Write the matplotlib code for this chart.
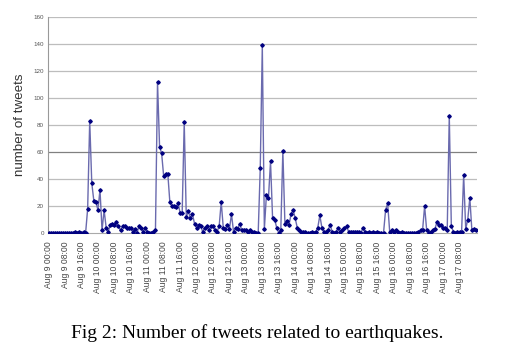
import matplotlib
matplotlib.use("Agg")
import matplotlib.pyplot as plt

# Hourly tweet counts, starting Aug 9 00:00
day_09 = [0, 0, 0, 0, 0, 0, 0, 0, 0, 0, 0, 0, 0, 1, 0, 1, 0, 1, 0, 18, 83, 37, 24, 23]
day_10 = [17, 32, 2, 17, 4, 1, 6, 7, 6, 8, 5, 2, 5, 5, 4, 4, 4, 1, 3, 0, 5, 4, 1, 4]
day_11 = [1, 0, 0, 1, 2, 112, 64, 59, 42, 44, 44, 23, 20, 20, 19, 22, 15, 15, 82, 12, 16, 11, 14, 7]
day_12 = [4, 6, 5, 1, 4, 5, 2, 5, 5, 2, 1, 5, 23, 4, 3, 6, 3, 14, 1, 4, 3, 7, 2, 2]
day_13 = [2, 1, 2, 1, 1, 0, 0, 48, 139, 3, 28, 26, 53, 11, 10, 4, 0, 2, 61, 7, 9, 6, 14, 17]
day_14 = [11, 4, 2, 1, 1, 1, 0, 0, 1, 0, 1, 4, 13, 4, 1, 1, 2, 6, 1, 0, 1, 4, 1, 2]
day_15 = [4, 5, 1, 1, 1, 1, 1, 1, 0, 4, 1, 0, 1, 0, 1, 0, 1, 0, 0, 0, 17, 22, 1, 2]
day_16 = [1, 2, 1, 0, 1, 0, 0, 0, 0, 0, 0, 0, 1, 2, 2, 20, 2, 0, 1, 2, 3, 8, 6, 6]
day_17 = [4, 4, 2, 87, 5, 1, 0, 1, 1, 1, 43, 3, 10, 26, 2, 3, 2]

counts = day_09 + day_10 + day_11 + day_12 + day_13 + day_14 + day_15 + day_16 + day_17

days = [9, 10, 11, 12, 13, 14, 15, 16, 17]
hours = [0, 8, 16]
tick_labels = [f"Aug {d} {h:02d}:00" for d in days for h in hours][:26]
tick_step = 8

plt.rcParams["font.family"] = ["Liberation Sans", "DejaVu Sans"]

fig = plt.figure(figsize=(5.08, 3.46), dpi=100)
ax = fig.add_axes([0.0945, 0.3266, 0.8445, 0.624])

x = list(range(len(counts)))
ax.plot(x, counts, color="#6a6aae", linewidth=1.0, zorder=3)
ax.plot(x, counts, linestyle="none", marker="D", markersize=1.8,
        markerfacecolor="#000080", markeredgecolor="#000080", zorder=4)

ax.set_xlim(-0.3, len(counts) - 0.5)
ax.set_ylim(0, 160)
ax.set_yticks(range(0, 161, 20))
ax.set_yticklabels([str(v) for v in range(0, 161, 20)], fontsize=4.5, color="#555555")
ax.set_xticks([i * tick_step for i in range(len(tick_labels))])
ax.set_xticklabels(tick_labels, rotation=90, fontsize=6.2, color="#444444")
ax.tick_params(axis="y", length=0, pad=3)
ax.tick_params(axis="x", length=0, pad=6)

for v in range(20, 161, 20):
    ax.axhline(v, color="#808080" if v == 60 else "#bdbdbd", linewidth=0.9, zorder=1)

for side in ("top", "right"):
    ax.spines[side].set_visible(False)
ax.spines["left"].set_color("#999999")
ax.spines["bottom"].set_color("#aaaaaa")
ax.spines["left"].set_linewidth(0.8)
ax.spines["bottom"].set_linewidth(0.8)

ax.set_ylabel("number of tweets", fontsize=9.6, color="#333333", labelpad=5)

fig.text(0.506, 0.038, "Fig 2: Number of tweets related to earthquakes.",
         ha="center", va="center", fontsize=14, family="Liberation Serif", color="black")

fig.savefig("out.png", dpi=100)
